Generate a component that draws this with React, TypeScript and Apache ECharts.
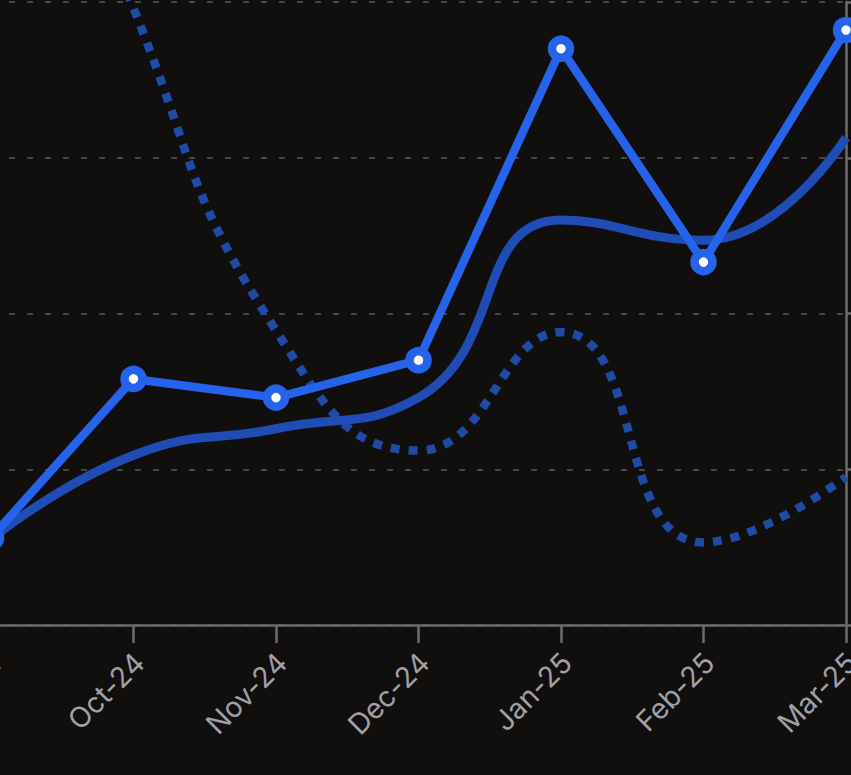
import React, { useEffect, useRef } from "react";
import * as echarts from "echarts";

const months = ["Sep-24", "Oct-24", "Nov-24", "Dec-24", "Jan-25", "Feb-25", "Mar-25"];
const actualValues = [5.6, 15.8, 14.6, 17.0, 37.0, 23.3, 38.2];
const trendValues = [5.5, 10.9, 12.6, 14.6, 26.0, 24.7, 31.3];
const dottedValues = [64.5, 39.6, 18.9, 11.2, 18.8, 5.3, 9.5];
const yTicks = { min: 0, max: 40, interval: 10 };

export default function App() {
  const ref = useRef<HTMLDivElement>(null);
  useEffect(() => {
    if (!ref.current) return;
    const chart = echarts.init(ref.current, null, { renderer: "svg" });
    const axisGrey = "#6c6c6c";
    chart.setOption({
      animation: false,
      backgroundColor: "#110e0e",
      grid: { left: 51, right: 65, top: 42, bottom: 150, outerBoundsMode: "none", containLabel: false },
      xAxis: {
        type: "category",
        boundaryGap: false,
        data: months,
        axisLine: { show: true, lineStyle: { color: axisGrey, width: 2.5 } },
        axisTick: { show: true, length: 18, lineStyle: { color: axisGrey, width: 2.5 } },
        axisLabel: {
          rotate: 45,
          color: "#a0a0a8",
          fontSize: 28.5,
          lineHeight: 16,
          verticalAlign: "top",
          margin: 27,
          fontFamily: "Inter, 'Noto Sans', sans-serif",
        },
        splitLine: { show: false },
      },
      yAxis: {
        type: "value",
        position: "right",
        min: yTicks.min,
        max: yTicks.max,
        interval: yTicks.interval,
        axisLine: { show: true, lineStyle: { color: axisGrey, width: 2.5 } },
        axisTick: { show: true, length: 8, lineStyle: { color: axisGrey, width: 2.5 } },
        axisLabel: { show: false },
        splitLine: {
          show: true,
          lineStyle: { color: "#5a5a5a", width: 1.5, type: [6, 12] },
        },
      },
      series: [
        {
          type: "line",
          data: dottedValues,
          smooth: true,
          clip: false,
          showSymbol: false,
          symbol: "none",
          lineStyle: { color: "#1f4aa6", width: 8.5, type: [9, 9], cap: "butt" },
          z: 1,
        },
        {
          type: "line",
          data: trendValues,
          smooth: true,
          showSymbol: false,
          symbol: "none",
          lineStyle: { color: "#1f4db5", width: 9 },
          z: 2,
        },
        {
          type: "line",
          data: actualValues,
          smooth: false,
          symbol: "circle",
          symbolSize: 18,
          showSymbol: true,
          clip: false,
          lineStyle: { color: "#2563eb", width: 8.5 },
          itemStyle: { color: "#ffffff", borderColor: "#2563eb", borderWidth: 8.5 },
          z: 3,
        },
      ],
    });
    return () => chart.dispose();
  }, []);
  return (
    <div
      style={{
        position: "fixed",
        left: 0,
        top: 0,
        width: 851,
        height: 775,
        overflow: "hidden",
        background: "#110e0e",
      }}
    >
      <div
        ref={ref}
        style={{ position: "absolute", left: -60, top: -40, width: 971, height: 815 }}
      />
    </div>
  );
}
